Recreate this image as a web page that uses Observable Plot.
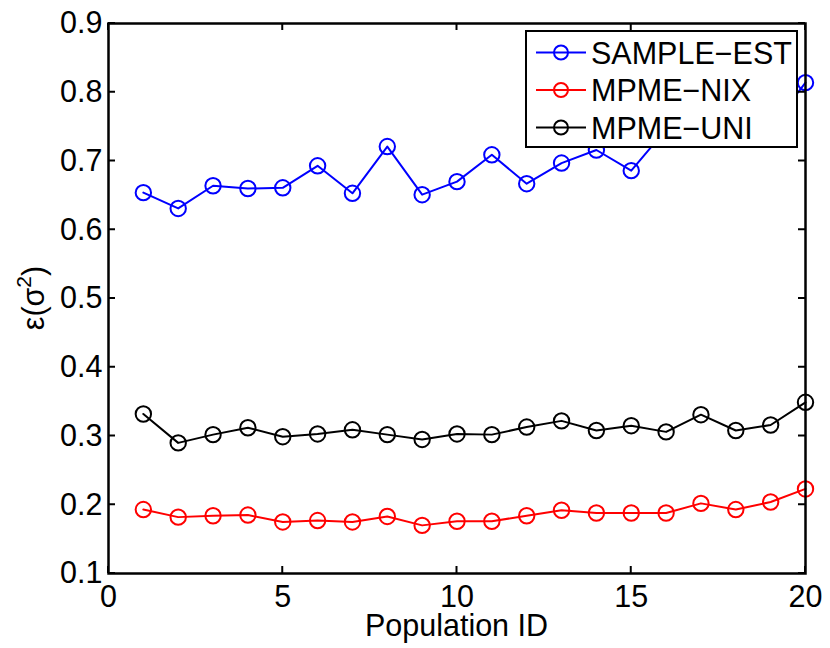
<!DOCTYPE html>
<html>
<head>
<meta charset="utf-8">
<script src="https://cdn.jsdelivr.net/npm/d3@7"></script>
<script src="https://cdn.jsdelivr.net/npm/@observablehq/plot@0.6"></script>
<style>
  html, body { margin: 0; padding: 0; background: #fff; }
  #chart svg { display: block; }
</style>
</head>
<body>
<div id="chart"></div>
<script>
// ---- data ----
const populationIds = [1,2,3,4,5,6,7,8,9,10,11,12,13,14,15,16,17,18,19,20];
const sampleEst = [0.654,0.631,0.664,0.660,0.661,0.693,0.653,0.721,0.651,0.670,0.709,0.667,0.697,0.716,0.686,0.746,0.760,0.742,0.748,0.814];
const mpmeNix   = [0.193,0.182,0.184,0.185,0.175,0.177,0.175,0.183,0.170,0.176,0.176,0.184,0.192,0.188,0.188,0.188,0.202,0.193,0.204,0.223];
const mpmeUni   = [0.332,0.290,0.302,0.312,0.299,0.303,0.309,0.302,0.295,0.303,0.302,0.313,0.322,0.308,0.315,0.306,0.331,0.308,0.316,0.349];
const seriesNames = ["SAMPLE\u2212EST", "MPME\u2212NIX", "MPME\u2212UNI"];
const seriesColors = ["#0000ff", "#ff0000", "#000000"];
const xTicks = [0, 5, 10, 15, 20];
const yTicks = [0.1, 0.2, 0.3, 0.4, 0.5, 0.6, 0.7, 0.8, 0.9];
const xLabel = "Population ID";

const seriesValues = [sampleEst, mpmeNix, mpmeUni];
const rows = [];
seriesValues.forEach((vals, s) => {
  vals.forEach((v, i) => rows.push({id: populationIds[i], value: v, series: seriesNames[s]}));
});

const FONT = "'Liberation Sans', Arial, Helvetica, sans-serif";
const FS = 30.5;

const plot = Plot.plot({
  width: 830,
  height: 648,
  marginLeft: 108,
  marginRight: 25,
  marginTop: 23,
  marginBottom: 75,
  style: {fontFamily: FONT, fontSize: FS + "px", color: "#000", background: "#fff", overflow: "visible"},
  x: {domain: [0, 20], ticks: xTicks},
  y: {domain: [0.1, 0.9], ticks: yTicks},
  color: {domain: seriesNames, range: seriesColors},
  marks: [
    Plot.axisX({ticks: xTicks, tickSize: 0, tickPadding: 12, label: null, fontSize: FS}),
    Plot.axisY({ticks: yTicks, tickSize: 0, tickPadding: 6, label: null, fontSize: FS, tickFormat: d3.format(".1f")}),
    Plot.line(rows, {x: "id", y: "value", z: "series", stroke: "series", strokeWidth: 2}),
    Plot.dot(rows, {x: "id", y: "value", stroke: "series", fill: "none", r: 7.7, strokeWidth: 2}),
    Plot.frame({stroke: "#000", strokeWidth: 2.5})
  ]
});

document.getElementById("chart").appendChild(plot);

// ---- inward ticks, labels, legend ----
const svg = d3.select(plot);
const sx = plot.scale("x"), sy = plot.scale("y");
const [x0, x1] = sx.range;
const [yb, yt] = sy.range; // bottom, top
const TL = 7;
const g = svg.append("g").attr("stroke", "#000").attr("stroke-width", 2);
xTicks.forEach(t => {
  const x = sx.apply(t);
  g.append("line").attr("x1", x).attr("x2", x).attr("y1", yb).attr("y2", yb - TL);
  g.append("line").attr("x1", x).attr("x2", x).attr("y1", yt).attr("y2", yt + TL);
});
yTicks.forEach(t => {
  const y = sy.apply(t);
  g.append("line").attr("x1", x0).attr("x2", x0 + TL).attr("y1", y).attr("y2", y);
  g.append("line").attr("x1", x1).attr("x2", x1 - TL).attr("y1", y).attr("y2", y);
});

// x label
svg.append("text")
  .attr("x", (x0 + x1) / 2).attr("y", 636)
  .attr("text-anchor", "middle")
  .attr("font-family", FONT).attr("font-size", FS).attr("fill", "#000")
  .text(xLabel);

// y label  ε(σ²)
const yl = svg.append("text")
  .attr("transform", `translate(44,${(yb + yt) / 2}) rotate(-90)`)
  .attr("text-anchor", "middle")
  .attr("font-family", FONT).attr("font-size", FS).attr("fill", "#000");
yl.append("tspan").text("\u03b5(\u03c3");
yl.append("tspan").attr("font-size", 21).attr("dy", -13).text("2");
yl.append("tspan").attr("dy", 13).text(")");

// legend
const lg = svg.append("g");
const lx = 526, ly = 31, lw = 271, lh = 116;
lg.append("rect").attr("x", lx).attr("y", ly).attr("width", lw).attr("height", lh)
  .attr("fill", "#fff").attr("stroke", "#000").attr("stroke-width", 2);
const rowY = [52.5, 90, 127.5];
seriesNames.forEach((name, i) => {
  const y = rowY[i];
  lg.append("line").attr("x1", 536).attr("x2", 586).attr("y1", y).attr("y2", y)
    .attr("stroke", seriesColors[i]).attr("stroke-width", 2);
  lg.append("circle").attr("cx", 561).attr("cy", y).attr("r", 7)
    .attr("fill", "none").attr("stroke", seriesColors[i]).attr("stroke-width", 2);
  lg.append("text").attr("x", 591).attr("y", y + 11)
    .attr("text-anchor", "start")
    .attr("font-family", FONT).attr("font-size", FS).attr("fill", "#000")
    .text(name);
});
</script>
</body>
</html>
